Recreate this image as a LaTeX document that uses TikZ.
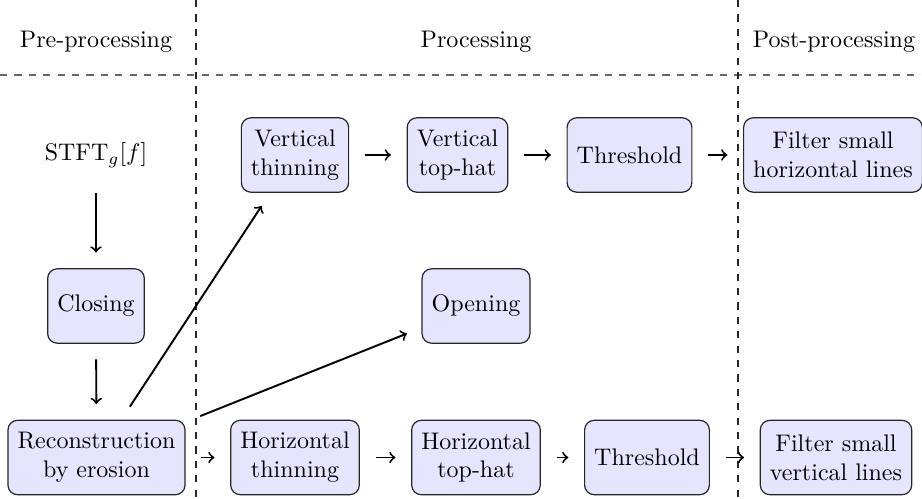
\documentclass[tikz,border=0pt]{standalone}
\begin{document}
\begin{tikzpicture}[x=0.41667pt,y=-0.41667pt,
  box/.style={draw=black!85, fill=blue!10, rounded corners=4pt, align=center,
              inner sep=4pt, minimum height=31pt, line width=0.5pt},
  arr/.style={->, thick, shorten >=6.5pt, shorten <=6.5pt},
  hsep/.style={dashed, draw=black!60, line width=0.6pt},
  vsep/.style={dashed, draw=black!85, line width=0.45pt}]
\useasboundingbox (0,0) rectangle (922,498);

% separators
\coordinate (hl) at (0,75);
\coordinate (hr) at (922,75);
\coordinate (v1t) at (196,0);
\coordinate (v1b) at (196,498);
\coordinate (v2t) at (738,0);
\coordinate (v2b) at (738,498);
\draw[hsep] (hl) -- (hr);
\draw[vsep] (v1t) -- (v1b);
\draw[vsep] (v2t) -- (v2b);

% headers
\node (hpre) at (96,42) {Pre-processing};
\node (hpro) at (476,42) {Processing};
\node (hpost) at (834,42) {Post-processing};

% nodes
\node[inner sep=4pt] (stft) at (96,155) {$\mathrm{STFT}_g[f]$};
\node[box] (clos) at (96,306) {Closing};
\node[box] (rec) at (96.5,457.5) {Reconstruction\\by erosion};
\node[box] (vthin) at (295,155) {Vertical\\thinning};
\node[box] (vtop) at (457.5,155) {Vertical\\top-hat};
\node[box] (vthr) at (629.5,155) {Threshold};
\node[box] (vfil) at (833,155) {Filter small\\horizontal lines};
\node[box] (open) at (476,306) {Opening};
\node[box] (hthin) at (295,457.5) {Horizontal\\thinning};
\node[box] (htop) at (476,457.5) {Horizontal\\top-hat};
\node[box] (hthr) at (647,457.5) {Threshold};
\node[box] (hfil) at (836,457.5) {Filter small\\vertical lines};

% connectors
\draw[arr] (stft) -- (clos);
\draw[arr] (clos) -- (rec);
\draw[arr] (rec) -- (vthin);
\draw[arr] (rec) -- (open);
\draw[arr] (rec) -- (hthin);
\draw[arr] (vthin) -- (vtop);
\draw[arr] (vtop) -- (vthr);
\draw[arr] (vthr) -- (vfil);
\draw[arr] (hthin) -- (htop);
\draw[arr] (htop) -- (hthr);
\draw[arr] (hthr) -- (hfil);
\end{tikzpicture}
\end{document}
